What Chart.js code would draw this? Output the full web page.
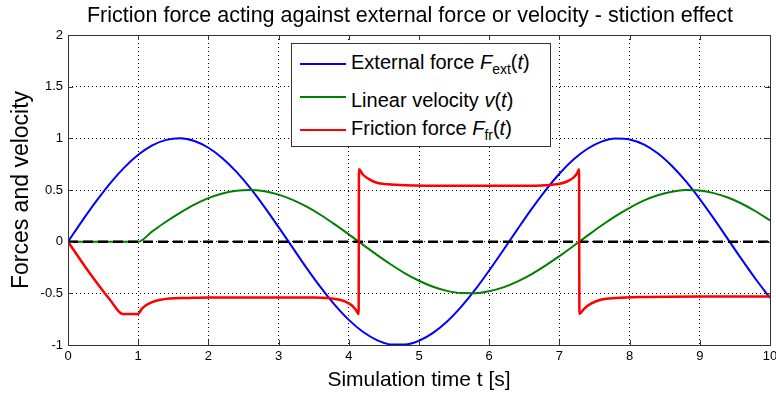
<!DOCTYPE html>
<html>
<head>
<meta charset="utf-8">
<script src="https://cdn.jsdelivr.net/npm/chart.js@4.4.0/dist/chart.umd.min.js"></script>
<style>
    html, body { margin: 0; padding: 0; background: #fff; overflow: hidden; }
    #wrap { position: relative; width: 784px; height: 393px; }
    #leyenda {
        position: absolute; left: 291px; top: 43px; width: 260px; height: 104px;
        background: #fff; border: 1px solid #333; box-sizing: border-box;
        font-family: "Liberation Sans", Arial, sans-serif; font-size: 20px; color: #000;
    }
    .muestra { position: absolute; left: 8px; width: 46px; height: 2px; }
    .texto { position: absolute; left: 59px; white-space: nowrap; line-height: 24px; height: 24px; }
    .texto sub { font-size: 14px; vertical-align: -5px; line-height: 0; }
</style>
</head>
<body>
<div id="wrap">
    <canvas id="grafico"></canvas>
    <div id="leyenda">
        <div class="muestra" style="top:19px; background:#0000ff"></div>
        <div class="texto" style="top:6px">External force <i>F</i><sub>ext</sub>(<i>t</i>)</div>
        <div class="muestra" style="top:52px; background:#008000"></div>
        <div class="texto" style="top:44px">Linear velocity <i>v</i>(<i>t</i>)</div>
        <div class="muestra" style="top:85px; background:#ff0000"></div>
        <div class="texto" style="top:72px">Friction force <i>F</i><sub>fr</sub>(<i>t</i>)</div>
    </div>
</div>
<script>
// datos
const tiempo = [0, 0.2, 0.4, 0.6, 0.8, 1.0, 1.2, 1.4, 1.6, 1.8, 2.0, 2.2, 2.4, 2.6, 2.8, 3.0, 3.2, 3.4, 3.6, 3.8,
    4.0, 4.2, 4.4, 4.6, 4.8, 5.0, 5.2, 5.4, 5.6, 5.8, 6.0, 6.2, 6.4, 6.6, 6.8, 7.0, 7.2, 7.4, 7.6, 7.8,
    8.0, 8.2, 8.4, 8.6, 8.8, 9.0, 9.2, 9.4, 9.6, 9.8, 10.0];

const fuerzaExterna = [0, 0.199, 0.389, 0.565, 0.717, 0.841, 0.932, 0.985, 1.0, 0.974, 0.909, 0.808, 0.675, 0.516, 0.335, 0.141, -0.058, -0.256, -0.443, -0.612,
    -0.757, -0.872, -0.952, -0.994, -0.996, -0.959, -0.883, -0.773, -0.631, -0.465, -0.279, -0.083, 0.117, 0.312, 0.494, 0.657, 0.794, 0.899, 0.968, 0.999,
    0.989, 0.941, 0.855, 0.734, 0.585, 0.412, 0.223, 0.025, -0.174, -0.366, -0.544];

const velocidad = [0, 0, 0, 0, 0, 0, 0.099, 0.195, 0.282, 0.359, 0.421, 0.466, 0.493, 0.5, 0.487, 0.455, 0.404, 0.338, 0.258, 0.167,
    0.071, -0.029, -0.128, -0.221, -0.306, -0.378, -0.436, -0.476, -0.497, -0.498, -0.479, -0.442, -0.386, -0.316, -0.232, -0.14, -0.042, 0.058, 0.156, 0.247,
    0.328, 0.397, 0.449, 0.484, 0.499, 0.495, 0.47, 0.427, 0.367, 0.292, 0.206];

const tiempoFriccion = [0, 0.2, 0.4, 0.6, 0.78, 1.0, 1.05, 1.1, 1.2, 1.3, 1.45, 1.7, 2.0, 2.5, 3.0, 3.5, 3.7, 3.85, 3.95, 4.05, 4.1, 4.14,
    4.145, 4.2, 4.3, 4.4, 4.55, 4.8, 5.5, 6.5, 6.8, 7.0, 7.1, 7.2, 7.25, 7.28,
    7.285, 7.35, 7.45, 7.6, 7.8, 8.2, 9.0, 10.0];
const fuerzaFriccion = [0, -0.199, -0.389, -0.565, -0.70, -0.70, -0.65, -0.62, -0.585, -0.565, -0.55, -0.545, -0.54, -0.54, -0.54, -0.54, -0.545, -0.56, -0.58, -0.62, -0.66, -0.70,
    0.70, 0.65, 0.60, 0.57, 0.555, 0.545, 0.54, 0.54, 0.545, 0.56, 0.58, 0.62, 0.66, 0.70,
    -0.70, -0.65, -0.60, -0.56, -0.545, -0.535, -0.53, -0.53];

const tiempoCero = [0, 10];
const valorCero = [0, 0];

const ticksX = [0, 1, 2, 3, 4, 5, 6, 7, 8, 9, 10];
const ticksY = [-1, -0.5, 0, 0.5, 1, 1.5, 2];

const titulo = "Friction force acting against external force or velocity - stiction effect";
const fuente = "'Liberation Sans', Arial, sans-serif";

function puntos(xs, ys) {
    return xs.map((x, i) => ({ x: x, y: ys[i] }));
}

// caja alrededor del area y marcas hacia adentro
const cajaPlugin = {
    id: "caja",
    afterDatasetsDraw(chart) {
        const { ctx, chartArea: a, scales } = chart;
        ctx.save();
        ctx.strokeStyle = "#333";
        ctx.lineWidth = 1;
        ctx.beginPath();
        ticksX.forEach(v => {
            const px = Math.round(scales.x.getPixelForValue(v)) + 0.5;
            ctx.moveTo(px, a.bottom); ctx.lineTo(px, a.bottom - 5);
            ctx.moveTo(px, a.top); ctx.lineTo(px, a.top + 5);
        });
        ticksY.forEach(v => {
            const py = Math.round(scales.y.getPixelForValue(v)) + 0.5;
            ctx.moveTo(a.left, py); ctx.lineTo(a.left + 5, py);
            ctx.moveTo(a.right, py); ctx.lineTo(a.right - 5, py);
        });
        ctx.stroke();
        ctx.strokeRect(Math.round(a.left) + 0.5, Math.round(a.top) + 0.5, Math.round(a.right - a.left), Math.round(a.bottom - a.top));
        ctx.restore();
    }
};

// titulo centrado sobre los ejes
const tituloPlugin = {
    id: "titulo",
    afterDraw(chart) {
        const { ctx, chartArea: a } = chart;
        ctx.save();
        ctx.font = "21.5px " + fuente;
        ctx.fillStyle = "#000";
        ctx.textAlign = "center";
        ctx.textBaseline = "middle";
        ctx.fillText(titulo, (a.left + a.right) / 2 - 9, 16);
        ctx.restore();
    }
};

const ctx = document.getElementById("grafico").getContext("2d");

new Chart(ctx, {
    type: "line",
    data: {
        datasets: [
            {
                label: "Friction force",
                data: puntos(tiempoFriccion, fuerzaFriccion),
                borderColor: "#ff0000",
                borderWidth: 2.5,
                cubicInterpolationMode: "monotone",
                order: 0
            },
            {
                label: "Zero",
                data: puntos(tiempoCero, valorCero),
                borderColor: "#000000",
                borderWidth: 2.5,
                borderDash: [10, 5],
                order: 1
            },
            {
                label: "Linear velocity",
                data: puntos(tiempo, velocidad),
                borderColor: "#008000",
                borderWidth: 2,
                cubicInterpolationMode: "monotone",
                order: 2
            },
            {
                label: "External force",
                data: puntos(tiempo, fuerzaExterna),
                borderColor: "#0000ff",
                borderWidth: 2,
                cubicInterpolationMode: "monotone",
                order: 3
            }
        ]
    },
    options: {
        responsive: true,
        maintainAspectRatio: false,
        animation: false,
        elements: { point: { radius: 0 } },
        layout: { padding: { left: 0, right: 14, top: 35, bottom: 0 } },
        plugins: {
            legend: { display: false },
            tooltip: { enabled: false },
            title: { display: false }
        },
        scales: {
            x: {
                type: "linear",
                min: 0,
                max: 10,
                afterBuildTicks: s => { s.ticks = ticksX.map(v => ({ value: v })); },
                afterFit: s => { s.height = 48; },
                grid: { color: "#000", lineWidth: 1, drawTicks: false },
                border: { display: false, dash: [1, 3] },
                ticks: { color: "#000", font: { family: fuente, size: 13 }, padding: 4, maxRotation: 0 },
                title: {
                    display: true,
                    text: "Simulation time t [s]",
                    color: "#000",
                    font: { family: fuente, size: 21 },
                    padding: { top: 0, bottom: 0 }
                }
            },
            y: {
                type: "linear",
                min: -1,
                max: 2,
                afterBuildTicks: s => { s.ticks = ticksY.map(v => ({ value: v })); },
                afterFit: s => { s.width = 68; },
                grid: { color: "#000", lineWidth: 1, drawTicks: false },
                border: { display: false, dash: [1, 3] },
                ticks: { color: "#000", font: { family: fuente, size: 13 }, padding: 5, callback: v => String(v) },
                title: {
                    display: true,
                    text: "Forces and velocity",
                    color: "#000",
                    font: { family: fuente, size: 23 },
                    padding: { top: 8, bottom: 0 }
                }
            }
        }
    },
    plugins: [cajaPlugin, tituloPlugin]
});
</script>
</body>
</html>
